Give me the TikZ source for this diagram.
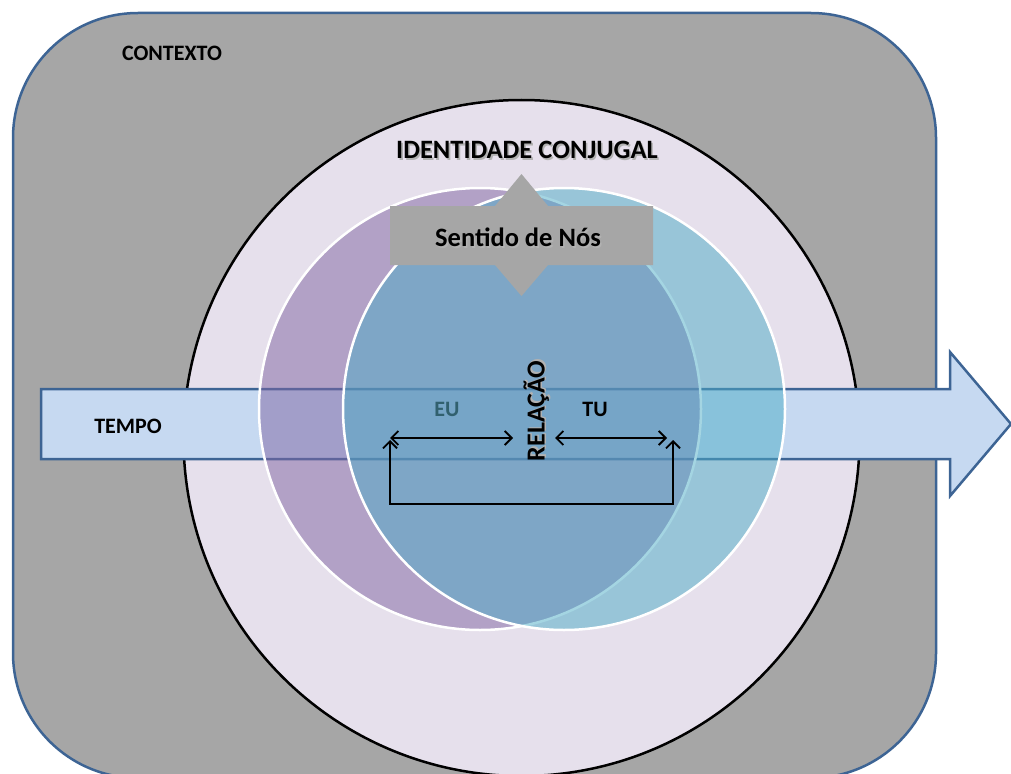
\documentclass[tikz,border=0pt]{standalone}
\usepackage{fontspec}
\setmainfont{Carlito}
\usetikzlibrary{arrows.meta}

\definecolor{ctxgray}{HTML}{A6A6A6}
\definecolor{ctxblue}{HTML}{3D6494}
\definecolor{identlav}{HTML}{E6E0EC}
\definecolor{tempofill}{HTML}{C6D9F1}
\definecolor{eupurple}{HTML}{8064A2}
\definecolor{tublue}{HTML}{4BACC6}
\definecolor{eutext}{HTML}{31606E}

\newcommand{\shadowtext}[1]{\makebox[0pt][l]{\hspace{1.6pt}\raisebox{-1.6pt}{\color{black!30}#1}}#1}

\begin{document}
\begin{tikzpicture}[x=1pt,y=-1pt,
    lbl/.style={inner sep=0pt,font=\bfseries\fontsize{22}{24}\selectfont},
    twohead/.style={{Straight Barb[length=7pt,width=14pt]}-{Straight Barb[length=7pt,width=14pt]},line width=1.8pt},
    ring/.style={draw=white,line width=2.5pt,fill opacity=0.5}]
    \useasboundingbox (0,0) rectangle (1011,773);
    \clip (0,0) rectangle (1011,773);

    % context box
    \draw[ctxblue,line width=2.5pt,fill=ctxgray,rounded corners=125pt] (13,13) rectangle (936,778);
    \node[lbl] (contexto) at (172,53) {CONTEXTO};

    \coordinate (ident) at (521.5,438);
    \draw[black,line width=2.5pt,fill=identlav] (ident) circle (338pt);

    % time arrow
    \draw[ctxblue,line width=2.5pt,fill=tempofill] (41,389) -- (950,389) -- (950,352)
        -- (1011,424) -- (950,496) -- (950,459) -- (41,459) -- cycle;
    \node[lbl] (tempo) at (128,426) {TEMPO};

    % eu / tu
    \coordinate (eucirc) at (480,409);
    \coordinate (tucirc) at (564,409);
    \draw[ring,fill=eupurple] (eucirc) circle (221pt);
    \draw[ring,fill=tublue] (tucirc) circle (221pt);

    \node[lbl,font=\bfseries\fontsize{26.5}{28}\selectfont] (identlbl) at (527,151) {\shadowtext{IDENTIDADE CONJUGAL}};

    \fill[ctxgray] (390,206) -- (495,206) -- (521.5,174) -- (548,206) -- (653,206) -- (653,265)
        -- (548,265) -- (521.5,296) -- (495,265) -- (390,265) -- cycle;
    \node[lbl,font=\bfseries\fontsize{26.5}{28}\selectfont] (nos) at (518,238) {\shadowtext{Sentido de Nós}};

    \node[lbl,text=eutext] (eu) at (447,409) {EU};
    \node[lbl] (tu) at (595,409) {TU};
    \node[lbl,rotate=90,font=\bfseries\fontsize{26}{28}\selectfont] (rel) at (537,411) {\shadowtext{RELAÇÃO}};

    \coordinate (eul) at (390,438);
    \coordinate (eur) at (513,438);
    \coordinate (tul) at (555,438);
    \coordinate (tur) at (667,438);
    \coordinate (eutip) at (390,440);
    \coordinate (tutip) at (673,440);
    \coordinate (bl) at (390,504);
    \coordinate (br) at (673,504);
    \draw[twohead] (eul) -- (eur);
    \draw[twohead] (tul) -- (tur);
    \draw[twohead] (eutip) -- (bl) -- (br) -- (tutip);
\end{tikzpicture}
\end{document}
